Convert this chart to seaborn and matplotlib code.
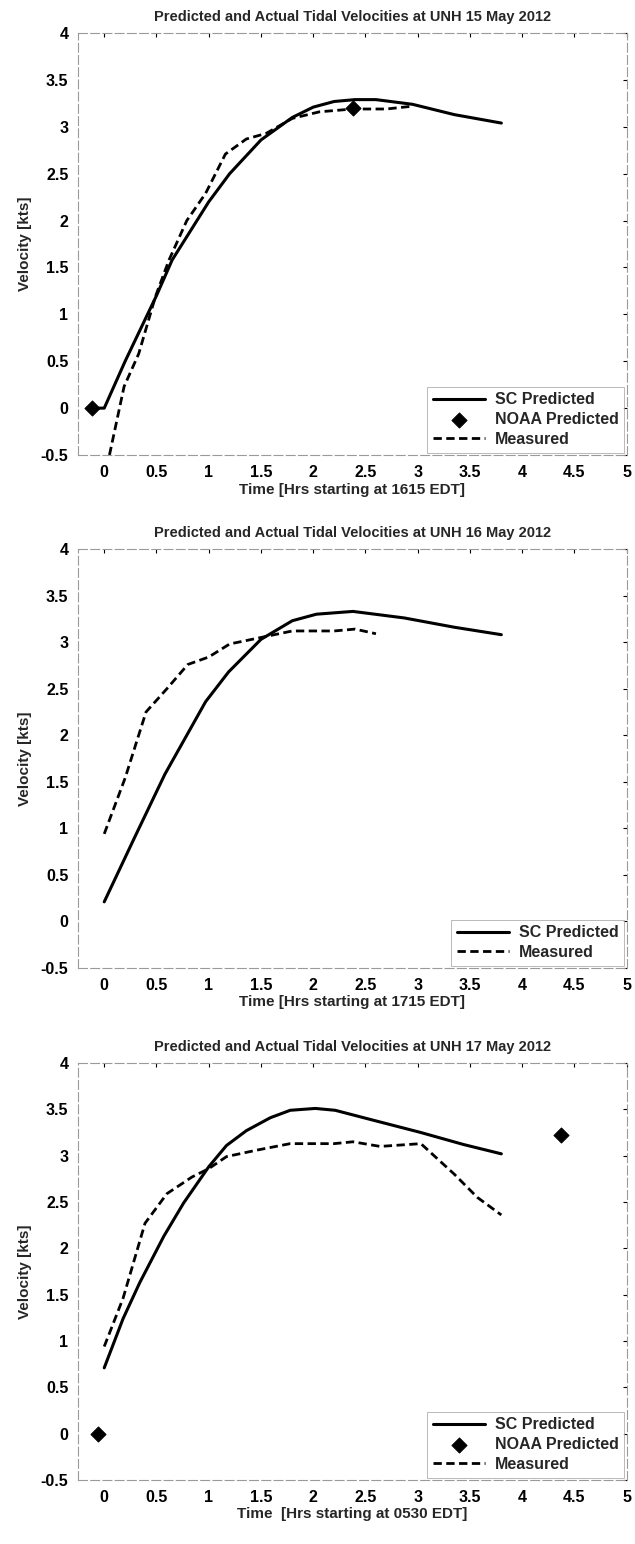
import matplotlib
matplotlib.use("Agg")
import matplotlib.pyplot as plt
import seaborn as sns

# ---- data ----
titles = ["Predicted and Actual Tidal Velocities at UNH 15 May 2012",
          "Predicted and Actual Tidal Velocities at UNH 16 May 2012",
          "Predicted and Actual Tidal Velocities at UNH 17 May 2012"]
xlabels = ["Time [Hrs starting at 1615 EDT]",
           "Time [Hrs starting at 1715 EDT]",
           "Time  [Hrs starting at 0530 EDT]"]

sc1_t = [-0.05, 0.0, 0.2, 0.5, 0.65, 1.0, 1.2, 1.5, 1.8, 2.0, 2.2, 2.4, 2.6, 2.95, 3.35, 3.8]
sc1_v = [0.0, 0.0, 0.5, 1.2, 1.58, 2.2, 2.5, 2.86, 3.1, 3.21, 3.27, 3.29, 3.29, 3.24, 3.13, 3.04]
meas1_t = [0.05, 0.19, 0.33, 0.49, 0.62, 0.79, 0.97, 1.16, 1.36, 1.55, 1.8, 2.06, 2.38, 2.7, 2.95]
meas1_v = [-0.5, 0.23, 0.58, 1.19, 1.58, 2.0, 2.29, 2.71, 2.87, 2.93, 3.09, 3.16, 3.19, 3.19, 3.22]
noaa1_t = [-0.12, 2.38]
noaa1_v = [0.0, 3.2]

sc2_t = [0.0, 0.29, 0.58, 0.97, 1.19, 1.5, 1.8, 2.03, 2.38, 2.87, 3.35, 3.8]
sc2_v = [0.21, 0.9, 1.58, 2.36, 2.68, 3.03, 3.23, 3.3, 3.33, 3.26, 3.16, 3.08]
meas2_t = [0.0, 0.2, 0.4, 0.6, 0.8, 1.0, 1.2, 1.5, 1.8, 2.2, 2.4, 2.6]
meas2_v = [0.94, 1.54, 2.25, 2.5, 2.76, 2.84, 2.98, 3.05, 3.12, 3.12, 3.14, 3.09]

sc3_t = [0.0, 0.18, 0.34, 0.57, 0.76, 1.0, 1.17, 1.36, 1.59, 1.78, 2.02, 2.21, 2.55, 3.03, 3.44, 3.8]
sc3_v = [0.71, 1.24, 1.63, 2.13, 2.49, 2.88, 3.11, 3.27, 3.41, 3.49, 3.51, 3.49, 3.39, 3.25, 3.12, 3.02]
meas3_t = [0.0, 0.18, 0.39, 0.6, 0.84, 1.0, 1.17, 1.46, 1.78, 2.2, 2.38, 2.64, 3.03, 3.35, 3.57, 3.8]
meas3_v = [0.94, 1.46, 2.27, 2.59, 2.77, 2.86, 2.99, 3.06, 3.13, 3.13, 3.15, 3.1, 3.13, 2.8, 2.55, 2.36]
noaa3_t = [-0.06, 4.37]
noaa3_v = [0.0, 3.22]

x_ticks = [0, 0.5, 1, 1.5, 2, 2.5, 3, 3.5, 4, 4.5, 5]
x_ticklabels = ["0", "0.5", "1", "1.5", "2", "2.5", "3", "3.5", "4", "4.5", "5"]
y_ticks = [-0.5, 0, 0.5, 1, 1.5, 2, 2.5, 3, 3.5, 4]
y_ticklabels = ["-0.5", "0", "0.5", "1", "1.5", "2", "2.5", "3", "3.5", "4"]

panels = [
    (sc1_t, sc1_v, meas1_t, meas1_v, noaa1_t, noaa1_v),
    (sc2_t, sc2_v, meas2_t, meas2_v, None, None),
    (sc3_t, sc3_v, meas3_t, meas3_v, noaa3_t, noaa3_v),
]

sns.set_theme(style="white")
plt.rcParams["font.family"] = ["Liberation Sans", "DejaVu Sans"]
plt.rcParams["font.weight"] = "bold"

fig = plt.figure(figsize=(6.35, 15.44), dpi=100)
boxes = [(0.123, 0.7053, 0.864, 0.2733),
         (0.123, 0.3731, 0.864, 0.2713),
         (0.123, 0.0415, 0.864, 0.2700)]

for i, (box, data) in enumerate(zip(boxes, panels)):
    sc_t, sc_v, m_t, m_v, n_t, n_v = data
    ax = fig.add_axes(box)

    sns.lineplot(x=sc_t, y=sc_v, color="black", linewidth=2.2, sort=False,
                 estimator=None, label="SC Predicted", ax=ax)
    if n_t is not None:
        sns.scatterplot(x=n_t, y=n_v, color="black", marker="D", s=60,
                        edgecolor="black", label="NOAA Predicted", ax=ax, zorder=5)
    sns.lineplot(x=m_t, y=m_v, color="black", linewidth=2.0, sort=False,
                 estimator=None, label="Measured", ax=ax)
    ax.lines[-1].set_dashes((3, 1.6))

    ax.set_xlim(-0.25, 5)
    ax.set_ylim(-0.5, 4)
    ax.set_xticks(x_ticks)
    ax.set_xticklabels(x_ticklabels)
    ax.set_yticks(y_ticks)
    ax.set_yticklabels(y_ticklabels)
    ax.tick_params(direction="in", length=3, width=0.8, colors="black",
                   top=True, right=True, labelsize=11.5, pad=7)
    for lab in ax.get_xticklabels() + ax.get_yticklabels():
        lab.set_fontweight("bold")
    for sp in ax.spines.values():
        sp.set_color("#9a9a9a")
        sp.set_linewidth(0.8)
        sp.set_linestyle((0, (8, 3)))

    ax.set_title(titles[i], fontsize=10.5, fontweight="bold", pad=9)
    ax.set_xlabel(xlabels[i], fontsize=11, fontweight="bold", labelpad=2)
    ax.set_ylabel("Velocity [kts]", fontsize=11, fontweight="bold", labelpad=6)

    leg = ax.legend(loc="lower right", fontsize=11.5, frameon=True, fancybox=False,
                    borderaxespad=0.15, handlelength=3.3, borderpad=0.35,
                    labelspacing=0.3, handletextpad=0.6)
    leg.get_frame().set_edgecolor("#9a9a9a")
    leg.get_frame().set_linewidth(0.6)
    for t in leg.get_texts():
        t.set_fontweight("bold")

fig.savefig("out.png", dpi=100)
